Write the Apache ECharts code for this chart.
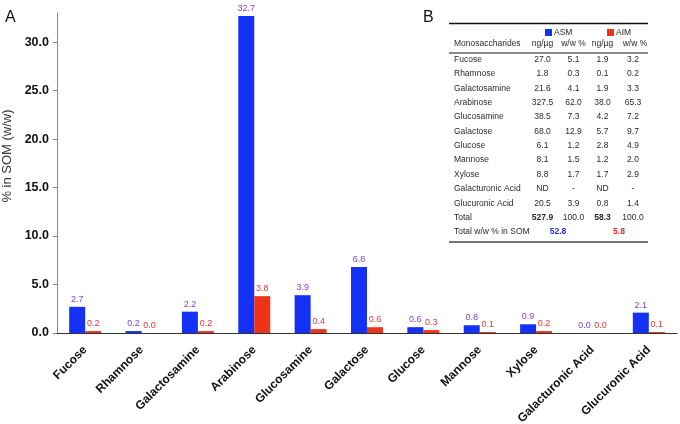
<!DOCTYPE html>
<html><head><meta charset="utf-8">
<script src="https://cdn.jsdelivr.net/npm/echarts@6/dist/echarts.min.js"></script>
<style>html,body{margin:0;padding:0;background:#fff}#c{width:680px;height:424px}</style>
</head><body><div id="c"></div>
<script>
const categories = ['Fucose','Rhamnose','Galactosamine','Arabinose','Glucosamine','Galactose','Glucose','Mannose','Xylose','Galacturonic Acid','Glucuronic Acid'];
const asmValues = [2.7, 0.2, 2.2, 32.7, 3.9, 6.8, 0.6, 0.8, 0.9, 0.0, 2.1];
const aimValues = [0.2, 0.0, 0.2, 3.8, 0.4, 0.6, 0.3, 0.1, 0.2, 0.0, 0.1];
const yAxisName = '% in SOM (w/w)';

const tableRows = ['Fucose','Rhamnose','Galactosamine','Arabinose','Glucosamine','Galactose','Glucose','Mannose','Xylose','Galacturonic Acid','Glucuronic Acid'];
const asmNg  = ['27.0','1.8','21.6','327.5','38.5','68.0','6.1','8.1','8.8','ND','20.5'];
const asmPct = ['5.1','0.3','4.1','62.0','7.3','12.9','1.2','1.5','1.7','-','3.9'];
const aimNg  = ['1.9','0.1','1.9','38.0','4.2','5.7','2.8','1.2','1.7','ND','0.8'];
const aimPct = ['3.2','0.2','3.3','65.3','7.2','9.7','4.9','2.0','2.9','-','1.4'];
const totalRow = ['527.9','100.0','58.3','100.0'];
const somTotals = ['52.8','5.8'];
const tableHeaders = ['Monosaccharides','ng/µg','w/w %','ng/µg','w/w %'];
const seriesNames = ['ASM','AIM'];

const FONT = '"Liberation Sans", Arial, Helvetica, sans-serif';
const BLUE = '#1432f5', RED = '#ee3418';
const BLUE_LBL = '#7a44e0', RED_LBL = '#e6343a';

const chart = echarts.init(document.getElementById('c'), null, {renderer:'canvas'});

// ---- table graphics ----
const g = [];
const tl = 449, tr = 648;
const colX = [542.5, 573.5, 602.5, 633];
const rowY0 = 59.5, rowStep = 14.375;
const tf = '8.5px ' + FONT;
function txt(x, y, s, opt) {
  opt = opt || {};
  g.push({type:'text', x:x, y:y, silent:true, style:{
    text:s, font:(opt.font||tf), fill:(opt.fill||'#2a2a2a'),
    textAlign:(opt.align||'center'), textVerticalAlign:'middle',
    align:(opt.align||'center'), verticalAlign:'middle'}});
}
function line(x1,y1,x2,y2,w,c){ g.push({type:'line', silent:true, shape:{x1:x1,y1:y1,x2:x2,y2:y2}, style:{stroke:c||'#111', lineWidth:w}}); }

txt(5, 18, 'A', {font:'16px '+FONT, align:'left', fill:'#111'});
txt(423, 18, 'B', {font:'16px '+FONT, align:'left', fill:'#111'});
line(tl, 23.5, tr, 23.5, 1.3);
g.push({type:'rect', silent:true, shape:{x:545,y:29,width:7,height:7}, style:{fill:BLUE}});
txt(554, 32.5, seriesNames[0], {align:'left'});
g.push({type:'rect', silent:true, shape:{x:607,y:29,width:7,height:7}, style:{fill:RED}});
txt(616, 32.5, seriesNames[1], {align:'left'});
txt(454, 43.5, tableHeaders[0], {align:'left'});
txt(colX[0], 43.5, tableHeaders[1]);
txt(colX[1], 43.5, tableHeaders[2]);
txt(colX[2], 43.5, tableHeaders[3]);
txt(colX[3]+2, 43.5, tableHeaders[4]);
line(tl, 53, tr, 53, 1);
tableRows.forEach(function(name, i){
  const y = rowY0 + i*rowStep;
  txt(454, y, name, {align:'left'});
  txt(colX[0], y, asmNg[i]);
  txt(colX[1], y, asmPct[i]);
  txt(colX[2], y, aimNg[i]);
  txt(colX[3], y, aimPct[i]);
});
let yT = rowY0 + tableRows.length*rowStep;
txt(454, yT, 'Total', {align:'left'});
txt(colX[0], yT, totalRow[0], {font:'bold 8.5px '+FONT});
txt(colX[1], yT, totalRow[1]);
txt(colX[2], yT, totalRow[2], {font:'bold 8.5px '+FONT});
txt(colX[3], yT, totalRow[3]);
yT += rowStep;
txt(454, yT, 'Total w/w % in SOM', {align:'left'});
txt(558, yT, somTotals[0], {font:'bold 8.5px '+FONT, fill:'#2233cc'});
txt(619, yT, somTotals[1], {font:'bold 8.5px '+FONT, fill:'#e02a2a'});
line(tl, 242, tr, 242, 1.5, '#444');

const lbl = (c) => ({show:true, position:'top', distance:3, color:c, fontSize:9, fontFamily:FONT,
  formatter: p => p.value.toFixed(1)});

chart.setOption({
  animation:false,
  textStyle:{fontFamily:FONT},
  grid:{left:57, right:3, top:13, bottom:91, containLabel:false, outerBoundsMode:'none'},
  xAxis:{
    type:'category', data:categories,
    axisLine:{lineStyle:{color:'#333', width:1}},
    axisTick:{show:false},
    axisLabel:{rotate:45, interval:0, margin:15, color:'#111', fontWeight:'bold', fontSize:12, fontFamily:FONT}
  },
  yAxis:{
    type:'value', min:0, max:33, interval:5,
    name:yAxisName, nameLocation:'middle', nameGap:38, nameRotate:90,
    nameTextStyle:{color:'#333', fontSize:13, fontFamily:FONT, padding:[0,0,0,34]},
    axisLine:{show:true, lineStyle:{color:'#888', width:1}},
    axisTick:{show:true, length:4, lineStyle:{color:'#888'}},
    splitLine:{show:false},
    axisLabel:{showMaxLabel:false, margin:8, color:'#111', fontWeight:'bold', fontSize:12.5, fontFamily:FONT,
      formatter: v => v.toFixed(1)}
  },
  series:[
    {name:seriesNames[0], type:'bar', data:asmValues, barWidth:16, barGap:'0%', itemStyle:{color:BLUE}, label:lbl(BLUE_LBL)},
    {name:seriesNames[1], type:'bar', data:aimValues, barWidth:16, barGap:'0%', itemStyle:{color:RED}, label:lbl(RED_LBL)}
  ],
  graphic:{elements:g}
});
</script></body></html>
